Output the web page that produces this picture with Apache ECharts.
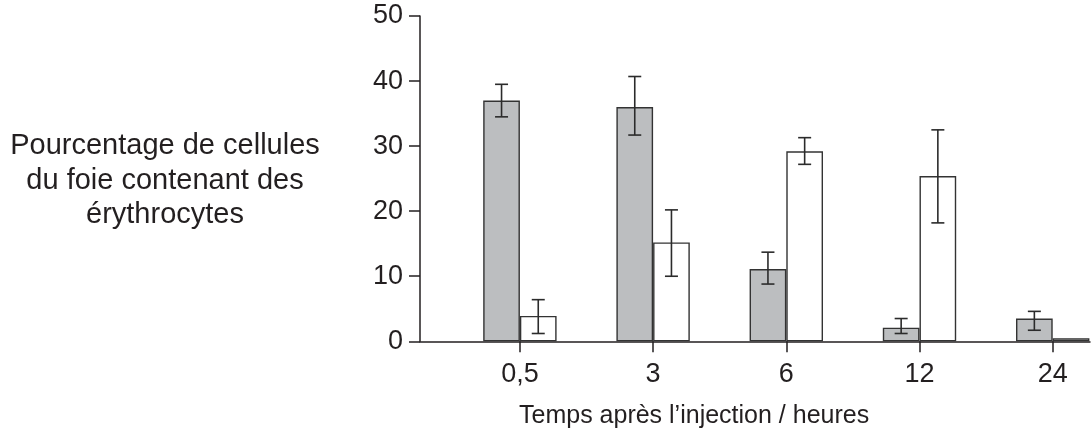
<!DOCTYPE html>
<html>
<head>
<meta charset="utf-8">
<script src="https://cdn.jsdelivr.net/npm/echarts@6/dist/echarts.min.js"></script>
<style>
html,body{margin:0;padding:0;background:#fff;}
#chart{width:1091px;height:438px;}
</style>
</head>
<body>
<div id="chart"></div>
<script>
// ---- data ----
var categories = ['0,5', '3', '6', '12', '24'];
var grayValues = [37.0, 36.0, 11.1, 2.1, 3.5];
var grayErrLow = [34.5, 31.7, 8.8, 1.2, 1.7];
var grayErrHigh = [39.5, 40.7, 13.7, 3.5, 4.6];
var whiteValues = [3.9, 15.2, 29.2, 25.4, 0.45];
var whiteErrLow = [1.2, 10.0, 27.2, 18.2, null];
var whiteErrHigh = [6.4, 20.2, 31.3, 32.5, null];
var yTicks = [0, 10, 20, 30, 40, 50];

// ---- style ----
var INK = '#231f20';
var GRAY = '#bcbec0';
var BAR_W = 36.7;
var CAP_HALF = 6.5;
var FONT = "'Liberation Sans', Arial, sans-serif";

function pairs(vals) {
  return vals.map(function (v, i) { return [i, v]; });
}
function errData(lo, hi) {
  var out = [];
  for (var i = 0; i < lo.length; i++) {
    if (lo[i] != null && hi[i] != null) out.push([i, lo[i], hi[i]]);
  }
  return out;
}
function errRender(offset) {
  return function (params, api) {
    var x = api.value(0);
    var p1 = api.coord([x, api.value(1)]);
    var p2 = api.coord([x, api.value(2)]);
    var cx = p1[0] + offset;
    var st = { stroke: '#2b2b2b', lineWidth: 1.6 };
    return {
      type: 'group',
      children: [
        { type: 'line', shape: { x1: cx, y1: p1[1], x2: cx, y2: p2[1] }, style: st },
        { type: 'line', shape: { x1: cx - CAP_HALF, y1: p1[1], x2: cx + CAP_HALF, y2: p1[1] }, style: st },
        { type: 'line', shape: { x1: cx - CAP_HALF, y1: p2[1], x2: cx + CAP_HALF, y2: p2[1] }, style: st }
      ]
    };
  };
}

var catIdx = categories.map(function (c, i) { return i; });

var chart = echarts.init(document.getElementById('chart'), null, { renderer: 'canvas' });
chart.setOption({
  animation: false,
  backgroundColor: '#ffffff',
  grid: { left: 420, right: 1, top: 16, bottom: 96.7, containLabel: false },
  xAxis: {
    type: 'value',
    min: -0.75,
    max: 4.28,
    axisLine: { show: true, onZero: false, lineStyle: { color: INK, width: 1.5 } },
    axisTick: { show: true, customValues: catIdx, length: 11, lineStyle: { color: INK, width: 1.5 } },
    axisLabel: {
      show: true, customValues: catIdx, margin: 20,
      fontSize: 27, fontFamily: FONT, color: INK,
      formatter: function (v) { return categories[Math.round(v)]; }
    },
    splitLine: { show: false }
  },
  yAxis: {
    type: 'value',
    min: yTicks[0],
    max: yTicks[yTicks.length - 1],
    interval: 10,
    axisLine: { show: true, onZero: false, lineStyle: { color: INK, width: 1.5 } },
    axisTick: { show: true, length: 11, lineStyle: { color: INK, width: 1.5 } },
    axisLabel: { margin: 17, fontSize: 27, fontFamily: FONT, color: INK },
    splitLine: { show: false }
  },
  graphic: [
    {
      type: 'text', x: 165, y: 180.5,
      style: {
        text: 'Pourcentage de cellules\ndu foie contenant des\nérythrocytes',
        align: 'center', verticalAlign: 'middle',
        fontSize: 29, lineHeight: 34.5, fontFamily: FONT, fill: INK
      }
    },
    {
      type: 'text', x: 519, y: 416,
      style: {
        text: 'Temps après l’injection / heures',
        align: 'left', verticalAlign: 'middle',
        fontSize: 25, fontFamily: FONT, fill: INK
      }
    }
  ],
  series: [
    {
      type: 'bar', name: 'gray', data: pairs(grayValues),
      barWidth: BAR_W, barGap: '0%',
      itemStyle: { color: GRAY, borderColor: '#333333', borderWidth: 1.4 },
      z: 2
    },
    {
      type: 'bar', name: 'white', data: pairs(whiteValues),
      barWidth: BAR_W, barGap: '0%',
      itemStyle: { color: '#ffffff', borderColor: '#333333', borderWidth: 1.4 },
      z: 2
    },
    {
      type: 'custom', name: 'grayErr', data: errData(grayErrLow, grayErrHigh),
      renderItem: errRender(-BAR_W / 2), z: 5,
      encode: { x: 0, y: [1, 2] }
    },
    {
      type: 'custom', name: 'whiteErr', data: errData(whiteErrLow, whiteErrHigh),
      renderItem: errRender(BAR_W / 2), z: 5,
      encode: { x: 0, y: [1, 2] }
    }
  ]
});
</script>
</body>
</html>
